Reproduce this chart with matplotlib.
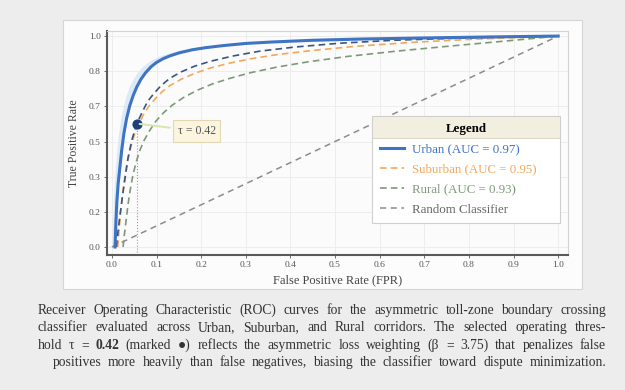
import numpy as np
import matplotlib
matplotlib.use("Agg")
import matplotlib.pyplot as plt
from matplotlib.patches import Rectangle

plt.rcParams['font.family'] = ['Liberation Serif', 'DejaVu Sans']

# ---- data ----
urban_fpr = [0.007, 0.009, 0.011, 0.014, 0.018, 0.022, 0.027, 0.033, 0.040, 0.048,
             0.056, 0.065, 0.075, 0.088, 0.10, 0.115, 0.13, 0.15, 0.18, 0.21,
             0.25, 0.30, 0.36, 0.45, 0.56, 0.70, 0.85, 1.0]
urban_tpr = [0.00, 0.12, 0.21, 0.30, 0.38, 0.46, 0.54, 0.61, 0.67, 0.72,
             0.76, 0.795, 0.825, 0.855, 0.875, 0.893, 0.906, 0.92, 0.935, 0.945,
             0.955, 0.965, 0.972, 0.98, 0.986, 0.991, 0.996, 1.0]
urban_band_lo = [0.000, 0.002, 0.003, 0.005, 0.008, 0.011, 0.015, 0.020, 0.026, 0.032,
                 0.039, 0.047, 0.056, 0.068, 0.080, 0.094, 0.108, 0.127, 0.155, 0.185,
                 0.225, 0.275, 0.335, 0.425, 0.535, 0.68, 0.84, 1.0]

urban_cv_fpr = [0.010, 0.014, 0.018, 0.023, 0.029, 0.036, 0.045, 0.056, 0.068, 0.08,
                0.095, 0.11, 0.13, 0.155, 0.185, 0.22, 0.27, 0.33, 0.41, 0.51,
                0.63, 0.79, 1.0]
urban_cv_tpr = [0.00, 0.08, 0.15, 0.23, 0.32, 0.42, 0.51, 0.585, 0.64, 0.69,
                0.73, 0.765, 0.80, 0.83, 0.857, 0.88, 0.905, 0.928, 0.948, 0.966,
                0.98, 0.991, 1.0]

suburban_fpr = [0.013, 0.016, 0.020, 0.025, 0.030, 0.036, 0.043, 0.051, 0.060, 0.070,
                0.082, 0.096, 0.112, 0.13, 0.155, 0.185, 0.22, 0.26, 0.31, 0.37,
                0.45, 0.55, 0.67, 0.82, 1.0]
suburban_tpr = [0.00, 0.08, 0.17, 0.27, 0.35, 0.42, 0.48, 0.535, 0.58, 0.625,
                0.665, 0.70, 0.735, 0.765, 0.795, 0.823, 0.848, 0.87, 0.892, 0.912,
                0.932, 0.952, 0.97, 0.986, 1.0]

rural_fpr = [0.025, 0.028, 0.032, 0.036, 0.041, 0.047, 0.054, 0.062, 0.072, 0.084,
             0.098, 0.115, 0.135, 0.16, 0.19, 0.225, 0.265, 0.31, 0.37, 0.44,
             0.53, 0.64, 0.77, 0.88, 1.0]
rural_tpr = [0.00, 0.06, 0.13, 0.20, 0.27, 0.34, 0.40, 0.455, 0.505, 0.55,
             0.595, 0.635, 0.672, 0.708, 0.742, 0.773, 0.80, 0.826, 0.853, 0.878,
             0.904, 0.929, 0.955, 0.976, 1.0]

random_fpr = [0.0, 1.0]
random_tpr = [0.0, 1.0]

op_fpr, op_tpr, op_tau = 0.056, 0.585, 0.42

labels = ['Urban (AUC = 0.97)', 'Suburban (AUC = 0.95)',
          'Rural (AUC = 0.93)', 'Random Classifier']

caption = [
    "Receiver Operating Characteristic (ROC) curves for the asymmetric toll-zone boundary crossing",
    "classifier evaluated across Urban, Suburban, and Rural corridors. The selected operating thres-",
    "hold τ = *0.42 (marked ●) reflects the asymmetric loss weighting (β = 3.75) that penalizes false",
    "positives more heavily than false negatives, biasing the classifier toward dispute minimization.",
]

c_urban = '#3f74c4'
c_navy = '#3a5580'
c_sub = '#f2a85a'
c_rural = '#7d9a78'
c_rand = '#8c8c8c'

W, H = 625, 390
fig = plt.figure(figsize=(6.25, 3.9), dpi=100)
fig.patch.set_facecolor('#eeedee')

# white card behind the chart
fig.patches.append(Rectangle((63 / W, 1 - 289 / H), (582 - 63) / W, (289 - 20) / H,
                             transform=fig.transFigure, facecolor='#fdfcfd',
                             edgecolor='#d6d6d6', linewidth=0.8, zorder=-5))

ax = fig.add_axes([107 / W, 1 - 255 / H, (568 - 107) / W, (255 - 31) / H])
ax.set_zorder(2)
ax.set_facecolor('#fcfbfb')

ax.fill_betweenx(urban_tpr, urban_band_lo, urban_fpr, color='#d3e6f7', alpha=0.8, lw=0)
h_rand, = ax.plot(random_fpr, random_tpr, color=c_rand, lw=1.1, ls=(0, (4, 3)), label=labels[3], zorder=2)
h_rural, = ax.plot(rural_fpr, rural_tpr, color=c_rural, lw=1.2, ls=(0, (4, 2.5)), label=labels[2], zorder=3)
h_sub, = ax.plot(suburban_fpr, suburban_tpr, color=c_sub, lw=1.2, ls=(0, (4, 2.5)), label=labels[1], zorder=3)
ax.plot(urban_cv_fpr, urban_cv_tpr, color=c_navy, lw=1.2, ls=(0, (4, 2.5)), zorder=3)
h_urb, = ax.plot(urban_fpr, urban_tpr, color=c_urban, lw=2.2, label=labels[0], zorder=4)

ax.vlines(op_fpr, -0.04, op_tpr, color='#9a9a9a', lw=0.8, ls=':', zorder=2)
ax.scatter([op_fpr], [op_tpr], s=40, color='#1f3f7a', edgecolor='#1f3f7a', zorder=6)
ax.annotate(f"τ = {op_tau:.2f}", xy=(op_fpr, op_tpr), xytext=(0.19, 0.55),
            fontsize=8.5, color='#555555', ha='center', va='center',
            bbox=dict(boxstyle='square,pad=0.4', facecolor='#fbf5df', edgecolor='#e2d8b4', lw=0.8),
            arrowprops=dict(arrowstyle='-', color='#d8e6b0', lw=1.5), zorder=7)

ax.set_xlim(-0.011, 1.022)
ax.set_ylim(-0.038, 1.024)
ax.set_xticks(np.arange(0, 1.01, 0.1))
ax.set_xticklabels([f"{v:.1f}" for v in np.arange(0, 1.01, 0.1)])
yt = np.linspace(0, 1, 7)
ax.set_yticks(yt)
ax.set_yticklabels([f"{v:.1f}" for v in yt])
ax.tick_params(labelsize=6.8, colors='#555555', length=2.5, width=0.6, pad=2)
ax.grid(True, color='#ebebeb', lw=0.6)
ax.set_axisbelow(True)
for s in ['left', 'bottom']:
    ax.spines[s].set_color('#5a5a5a')
    ax.spines[s].set_linewidth(1.5)
for s in ['top', 'right']:
    ax.spines[s].set_color('#d4d4d4')
    ax.spines[s].set_linewidth(0.8)

ax.set_xlabel('False Positive Rate (FPR)', fontsize=9, color='#444444')
ax.xaxis.set_label_coords(0.5, -0.085)
ax.set_ylabel('True Positive Rate', fontsize=8.5, color='#444444')
ax.yaxis.set_label_coords(-0.058, 0.5)

leg = ax.legend(handles=[h_urb, h_sub, h_rural, h_rand], loc='upper left',
                bbox_to_anchor=(0.575, 0.622, 0.408, 0), mode='expand', borderaxespad=0,
                fontsize=9.3, title='Legend', title_fontproperties={'weight': 'bold', 'size': 9.3},
                handlelength=1.9, handletextpad=0.6, labelspacing=0.62, borderpad=0.6,
                framealpha=1, facecolor='none', edgecolor='#cfcfcf', fancybox=False)
leg.set_zorder(10)
leg.get_frame().set_linewidth(0.8)
for txt, ln in zip(leg.get_texts(), leg.get_lines()):
    txt.set_color(ln.get_color() if ln.get_color() != c_rand else '#666666')

fig.canvas.draw()
r = fig.canvas.get_renderer()
inv = ax.transAxes.inverted()
lb = leg.get_window_extent(r)
tb = leg.get_title().get_window_extent(r)
(x0, y0), (x1, y1) = inv.transform([[lb.x0, lb.y0], [lb.x1, lb.y1]])
hy = inv.transform([[0, tb.y0 - 3]])[0][1]
ax.add_patch(Rectangle((x0, y0), x1 - x0, y1 - y0, transform=ax.transAxes,
                       facecolor='white', edgecolor='none', zorder=8))
ax.add_patch(Rectangle((x0, hy), x1 - x0, y1 - hy, transform=ax.transAxes,
                       facecolor='#f3efe0', edgecolor='#d8d2bf', lw=0.6, zorder=9))

# justified caption
def put_line(line, ypx, xl, xr, size=9.8):
    texts = []
    for w in line.split(' '):
        bold = w.startswith('*')
        t = fig.text(0, 1 - ypx / H, w.lstrip('*'), fontsize=size, color='#333333',
                     weight='bold' if bold else 'normal', va='baseline', ha='left')
        texts.append(t)
    widths = [t.get_window_extent(r).width for t in texts]
    gap = (xr - xl - sum(widths)) / (len(texts) - 1)
    x = xl
    for t, w in zip(texts, widths):
        t.set_x(x / W)
        x += w + gap

ys = [314, 331, 349, 366]
for i, line in enumerate(caption):
    put_line(line, ys[i], 38 if i < 3 else 53, 606)

fig.savefig('out.png', dpi=100, facecolor=fig.get_facecolor())
